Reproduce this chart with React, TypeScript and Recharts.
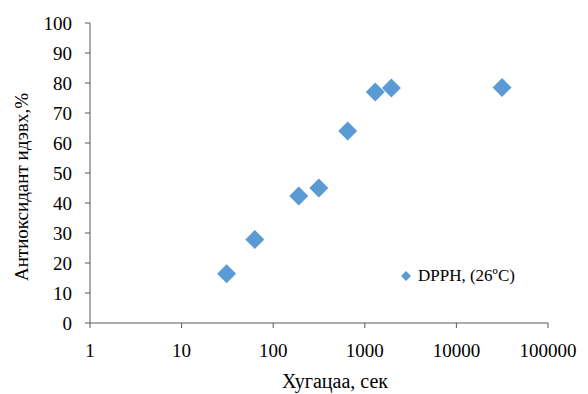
import React from "react";
import {
  ScatterChart,
  Scatter,
  XAxis,
  YAxis,
  Legend,
  Label,
} from "recharts";

// time (sec) vs antioxidant activity (%)
const timeSec = [31, 63, 190, 315, 650, 1300, 1950, 31500];
const activity = [16.4, 27.8, 42.3, 45.0, 64.0, 77.0, 78.3, 78.5];

const xTicks = [1, 10, 100, 1000, 10000, 100000];
const yTicks = [0, 10, 20, 30, 40, 50, 60, 70, 80, 90, 100];

const seriesName = "DPPH, (26ºC)";
const BLUE = "#5B9BD5";
const AXIS = "#595959";
const FONT = "Liberation Serif";

const data = timeSec.map((t, i) => ({ t, v: activity[i] }));

const Diamond = (props: any) => {
  const { cx, cy } = props;
  const r = 9.5;
  return (
    <polygon
      points={`${cx},${cy - r} ${cx + r},${cy} ${cx},${cy + r} ${cx - r},${cy}`}
      fill={BLUE}
    />
  );
};

const LegendContent = () => (
  <div style={{ display: "flex", alignItems: "center", fontFamily: FONT, fontSize: 17, color: "#000" }}>
    <svg width={12} height={12} style={{ marginRight: 6 }}>
      <polygon points="6,1 11,6 6,11 1,6" fill={BLUE} />
    </svg>
    <span>{seriesName}</span>
  </div>
);

// y title sits a little below the plot's middle, as in the source
const YTitle = (props: any) => {
  const { viewBox } = props;
  const x = viewBox.x + 21;
  const y = viewBox.y + viewBox.height / 2 + 14;
  return (
    <text
      x={x}
      y={y}
      transform={`rotate(-90, ${x}, ${y})`}
      textAnchor="middle"
      dominantBaseline="central"
      fill="#000"
      fontSize={19}
      fontFamily={FONT}
    >
      Антиоксидант идэвх,%
    </text>
  );
};

// x title is shifted a bit right of the plot's middle
const XTitle = (props: any) => {
  const { viewBox } = props;
  const x = viewBox.x + viewBox.width / 2 + 16;
  const y = viewBox.y + viewBox.height - 6;
  return (
    <text x={x} y={y} textAnchor="middle" fill="#000" fontSize={20} fontFamily={FONT}>
      Хугацаа, сек
    </text>
  );
};

const tick = { fill: "#000", fontSize: 19, fontFamily: FONT };

export default function App() {
  return (
    <div style={{ position: "absolute", left: 0, top: 0, background: "#fff", fontFamily: FONT }}>
      <ScatterChart width={588} height={394} margin={{ top: 23, right: 40, left: 0, bottom: 0 }}>
        <XAxis
          dataKey="t"
          type="number"
          scale="log"
          domain={[1, 100000]}
          ticks={xTicks}
          allowDataOverflow
          height={71}
          tick={tick}
          tickSize={5}
          tickMargin={16}
          stroke={AXIS}
          tickLine={{ stroke: AXIS }}
        >
          <Label content={XTitle} />
        </XAxis>
        <YAxis
          dataKey="v"
          type="number"
          domain={[0, 100]}
          ticks={yTicks}
          width={90}
          tick={tick}
          tickSize={5}
          tickMargin={13}
          stroke={AXIS}
          tickLine={{ stroke: AXIS }}
        >
          <Label content={YTitle} />
        </YAxis>
        <Legend
          layout="horizontal"
          verticalAlign="middle"
          align="center"
          wrapperStyle={{ left: 400, top: 266, width: 150 }}
          content={LegendContent}
        />
        <Scatter
          name={seriesName}
          data={data}
          fill={BLUE}
          shape={Diamond}
          isAnimationActive={false}
        />
      </ScatterChart>
    </div>
  );
}
